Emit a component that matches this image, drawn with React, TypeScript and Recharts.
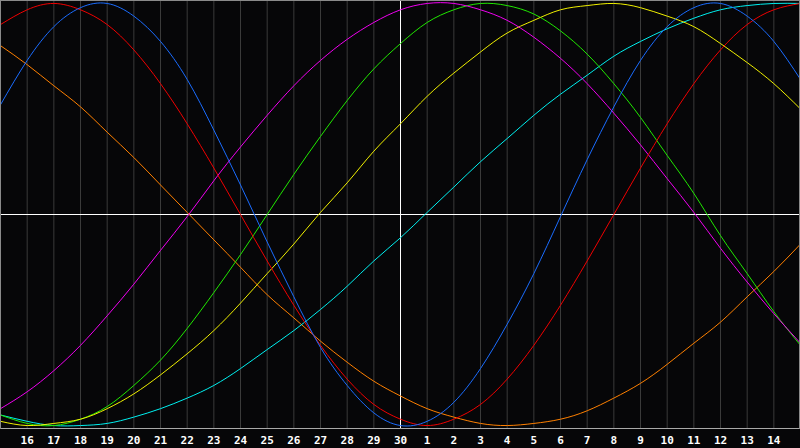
import React from "react";
import { CartesianGrid, Line, LineChart, ReferenceLine, XAxis, YAxis } from "recharts";

// 31 day slots, index 15 is "today" (the white centre line)
const dayLabels = [
  "15", "16", "17", "18", "19", "20", "21", "22", "23", "24", "25", "26", "27", "28", "29", "30",
  "1", "2", "3", "4", "5", "6", "7", "8", "9", "10", "11", "12", "13", "14", "15",
];

// cycle values in percent
const physical = [52, 73, 89, 98, 100, 94, 82, 64, 40, 14, -13, -39, -63, -81, -94, -100, -98, -89, -73, -52, -28, -1, 26, 51, 73, 89, 98, 100, 94, 82, 64];
const emotional = [90, 97, 100, 97, 90, 78, 62, 43, 22, 0, -22, -43, -62, -78, -90, -97, -100, -97, -90, -78, -62, -43, -22, 0, 22, 43, 62, 78, 90, 97, 100];
const intuitive = [-92, -84, -74, -62, -48, -33, -17, -1, 16, 32, 47, 61, 73, 83, 91, 97, 100, 100, 97, 92, 84, 74, 62, 48, 33, 17, 1, -16, -32, -47, -61];
const intellectual = [-95, -99, -100, -97, -91, -81, -69, -54, -37, -19, 0, 19, 37, 54, 69, 81, 91, 97, 100, 99, 95, 87, 76, 62, 46, 28, 10, -10, -28, -46, -62];
const aesthetic = [-98, -100, -99, -97, -92, -85, -76, -66, -55, -42, -28, -14, 1, 15, 30, 43, 56, 67, 77, 86, 92, 97, 99, 100, 98, 94, 89, 81, 72, 62, 50];
const spiritual = [-95, -98, -100, -100, -99, -96, -92, -87, -81, -73, -64, -55, -45, -34, -22, -11, 1, 13, 25, 36, 47, 57, 66, 75, 82, 88, 93, 97, 99, 100, 100];
const awareness = [80, 71, 61, 51, 39, 27, 14, 1, -12, -25, -38, -49, -60, -70, -79, -86, -92, -96, -99, -100, -99, -97, -93, -87, -80, -71, -61, -51, -39, -27, -14];

const seriesList = [
  { key: "awareness", values: awareness, color: "#ff8000" },
  { key: "spiritual", values: spiritual, color: "#00f0f0" },
  { key: "intellectual", values: intellectual, color: "#20e800" },
  { key: "aesthetic", values: aesthetic, color: "#f0f000" },
  { key: "intuitive", values: intuitive, color: "#f000f0" },
  { key: "emotional", values: emotional, color: "#f00000" },
  { key: "physical", values: physical, color: "#1a6cff" },
];

const rows = dayLabels.map((day, i) => {
  const row: Record<string, number | string> = { x: i, day };
  for (const s of seriesList) row[s.key] = s.values[i];
  return row;
});

const tickIdx = dayLabels.map((_, i) => i).slice(1, 30);

export default function App() {
  return (
    <div style={{ position: "absolute", left: 0, top: 0, width: 800, height: 448, background: "#060608" }}>
      {/* half-pixel margins keep the 1px rules on whole pixels */}
      <LineChart width={800} height={448} data={rows} margin={{ top: 0.5, right: -0.5, bottom: -0.5, left: 0.5 }}>
        <CartesianGrid horizontal={false} stroke="#3a3a3a" />
        <XAxis
          dataKey="x"
          type="number"
          domain={[0, 30]}
          ticks={tickIdx}
          tickFormatter={(v: number) => dayLabels[v]}
          interval={0}
          height={20}
          tickLine={false}
          axisLine={{ stroke: "#a8a8a8" }}
          tick={{ fill: "#ffffff", fontSize: 11, fontWeight: "bold", fontFamily: "DejaVu Sans Mono" }}
        />
        <YAxis hide domain={[-101.4, 101.4]} />
        <ReferenceLine x={15} stroke="#ffffff" />
        <ReferenceLine y={0} stroke="#ffffff" />
        {seriesList.map((s) => (
          <Line
            key={s.key}
            type="natural"
            dataKey={s.key}
            stroke={s.color}
            strokeWidth={1}
            dot={false}
            activeDot={false}
            isAnimationActive={false}
          />
        ))}
      </LineChart>
      <div
        style={{
          position: "absolute",
          left: 0,
          top: 0,
          width: 798,
          height: 428,
          borderTop: "1px solid #8a8a8a",
          borderLeft: "1px solid #8a8a8a",
          borderRight: "1px solid #8a8a8a",
          pointerEvents: "none",
        }}
      />
    </div>
  );
}
